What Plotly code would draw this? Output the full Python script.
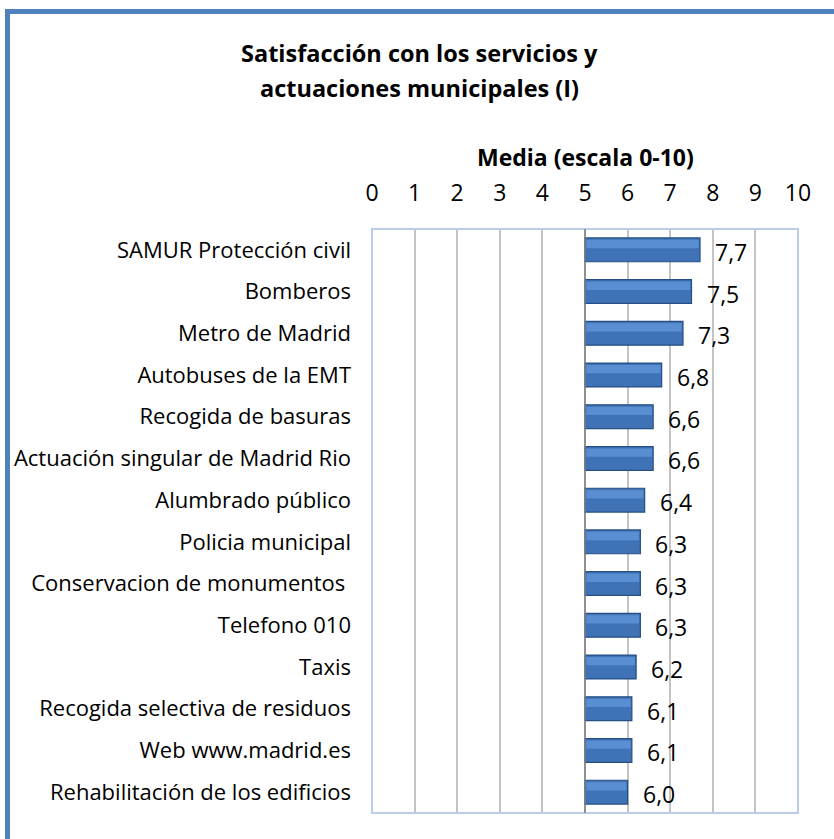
import plotly.graph_objects as go

categories = [
    "SAMUR Protección civil",
    "Bomberos",
    "Metro de Madrid",
    "Autobuses de la EMT",
    "Recogida de basuras",
    "Actuación singular de Madrid Rio",
    "Alumbrado público",
    "Policia municipal",
    "Conservacion de monumentos ",
    "Telefono 010",
    "Taxis",
    "Recogida selectiva de residuos",
    "Web www.madrid.es",
    "Rehabilitación de los edificios",
]
values = [7.7, 7.5, 7.3, 6.8, 6.6, 6.6, 6.4, 6.3, 6.3, 6.3, 6.2, 6.1, 6.1, 6.0]
value_labels = ["7,7", "7,5", "7,3", "6,8", "6,6", "6,6", "6,4", "6,3", "6,3", "6,3", "6,2", "6,1", "6,1", "6,0"]
title_lines = ["Satisfacción con los servicios y", "actuaciones municipales (I)"]
axis_title = "Media (escala 0-10)"
axis_base = 5
x_ticks = list(range(0, 11))

FONT = "Open Sans"
W, H = 834, 839
ML, MR, MT, MB = 372, 36, 229, 26
plot_h = H - MT - MB
plot_w = W - ML - MR

def py(p):
    return (H - MB - p) / plot_h

def px(p):
    return (p - ML) / plot_w

fig = go.Figure()
fig.add_trace(go.Bar(
    y=categories,
    x=[v - axis_base for v in values],
    base=axis_base,
    orientation="h",
    width=0.57,
    marker=dict(color="#4073B5", line=dict(color="#254F85", width=1.2)),
    hoverinfo="skip",
))
# lighter bevel highlight on upper part of each bar
fig.add_trace(go.Bar(
    y=categories,
    x=[v - axis_base - 0.06 for v in values],
    base=axis_base + 0.03,
    orientation="h",
    width=0.2,
    offset=-0.24,
    marker=dict(color="#5A8ED2", line=dict(width=0)),
    hoverinfo="skip",
))

annotations = []
for c, v, t in zip(categories, values, value_labels):
    annotations.append(dict(
        x=v, y=c, xref="x", yref="y", text=t, showarrow=False,
        xanchor="left", yanchor="middle", xshift=13, yshift=-2,
        font=dict(family=FONT, size=23, color="#000000"),
    ))

for line, ypix in zip(title_lines, [53, 88]):
    annotations.append(dict(
        x=px(W / 2 + 2), xref="paper", y=py(ypix), yref="paper",
        text="<b>" + line + "</b>",
        showarrow=False, xanchor="center", yanchor="middle",
        font=dict(family=FONT, size=23.5, color="#000000"),
    ))
annotations.append(dict(
    x=0.5, xref="paper", y=py(157), yref="paper",
    text="<b>" + axis_title + "</b>",
    showarrow=False, xanchor="center", yanchor="middle",
    font=dict(family=FONT, size=23, color="#000000"),
))

shapes = [
    dict(type="rect", xref="paper", yref="paper", x0=0, x1=1, y0=0, y1=1,
         line=dict(color="#BCCBEA", width=2), layer="above"),
    dict(type="line", xref="x", yref="paper", x0=axis_base, x1=axis_base, y0=0, y1=1,
         line=dict(color="#7F7F7F", width=1.5), layer="above"),
    dict(type="line", xref="paper", yref="paper", x0=px(5), x1=px(840), y0=py(11.5), y1=py(11.5),
         line=dict(color="#4F81BD", width=5)),
    dict(type="line", xref="paper", yref="paper", x0=px(7.5), x1=px(7.5), y0=py(9), y1=py(845),
         line=dict(color="#4F81BD", width=5)),
]

fig.update_layout(
    width=W, height=H,
    margin=dict(l=ML, r=MR, t=MT, b=MB, pad=0, autoexpand=False),
    paper_bgcolor="white", plot_bgcolor="white",
    showlegend=False,
    barmode="overlay",
    annotations=annotations,
    shapes=shapes,
    font=dict(family=FONT, color="#000000"),
    xaxis=dict(
        side="top", range=[0, 10], tickvals=x_ticks, ticktext=[str(t) for t in x_ticks],
        showgrid=True, gridcolor="#C4C4C4", gridwidth=1.5,
        zeroline=False, showline=False, ticks="",
        ticklabelstandoff=22, automargin=False,
        tickfont=dict(family=FONT, size=23, color="#000000"),
        fixedrange=True,
    ),
    yaxis=dict(
        autorange="reversed", showgrid=False, zeroline=False, showline=False,
        ticks="", ticklabelstandoff=20, automargin=False,
        tickfont=dict(family=FONT, size=22, color="#000000"),
        fixedrange=True,
    ),
)

fig.write_html("out.html")
